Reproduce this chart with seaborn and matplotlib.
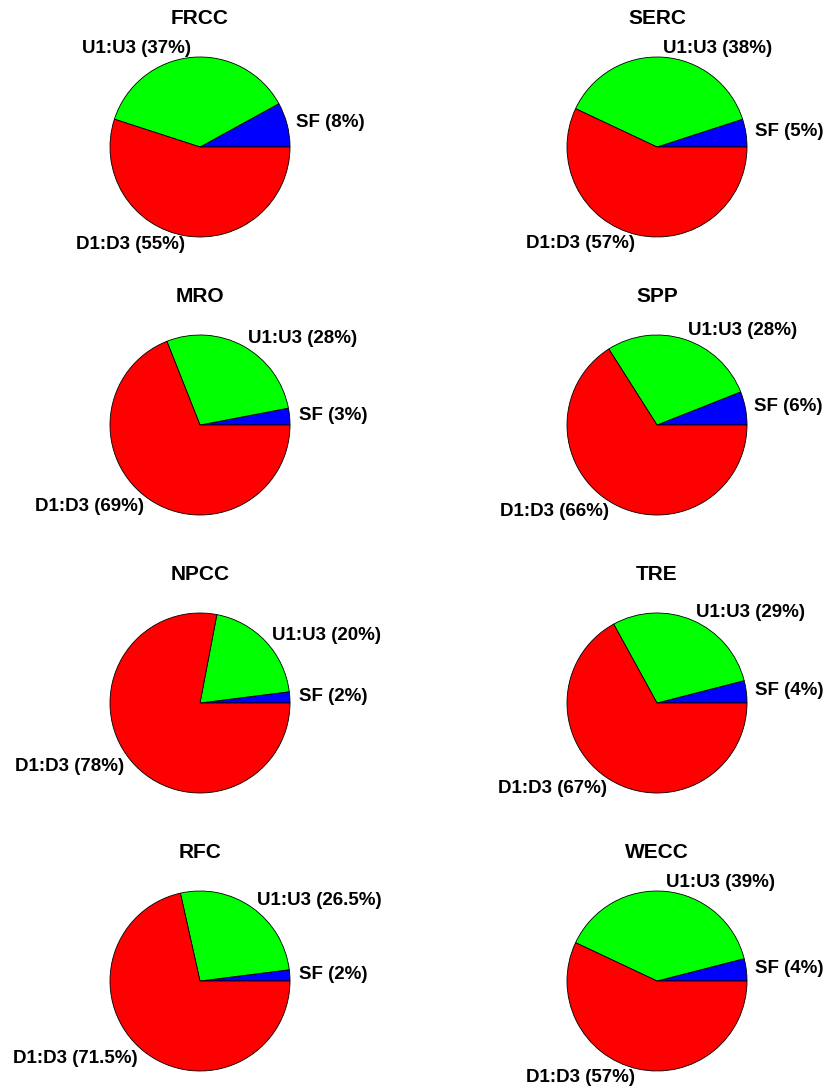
import numpy as np
import matplotlib
matplotlib.use("Agg")
import matplotlib.pyplot as plt
import seaborn as sns

# share of each class per region (percent)
REGIONS = ["FRCC", "SERC", "MRO", "SPP", "NPCC", "TRE", "RFC", "WECC"]
SF = [8, 5, 3, 6, 2, 4, 2, 4]
U1_U3 = [37, 38, 28, 28, 20, 29, 26.5, 39]
D1_D3 = [55, 57, 69, 66, 78, 67, 71.5, 57]
CLASS_NAMES = ["SF", "U1:U3", "D1:D3"]
COLORS = ["#0000ff", "#00ff00", "#ff0000"]

W, H = 828, 1088
COL_X = [200, 657]
ROW_Y = [147, 425, 703, 981]
RADIUS = 90
LIM = 1.3

sns.set_theme(style="white")
plt.rcParams["font.family"] = ["Liberation Sans", "DejaVu Sans"]
plt.rcParams["text.color"] = "black"

fig = plt.figure(figsize=(W / 100, H / 100), dpi=100)

size = 2 * LIM * RADIUS
for i, region in enumerate(REGIONS):
    cx = COL_X[i % 2]
    cy = ROW_Y[i // 2]
    ax = fig.add_axes([(cx - size / 2) / W, 1 - (cy + size / 2) / H, size / W, size / H])
    vals = [SF[i], U1_U3[i], D1_D3[i]]
    labels = [f"{n} ({v:g}%)" for n, v in zip(CLASS_NAMES, vals)]
    ax.pie(vals, labels=labels, colors=COLORS, startangle=0, counterclock=True,
           labeldistance=1.1, radius=1,
           wedgeprops=dict(edgecolor="black", linewidth=0.6),
           textprops=dict(fontsize=13.5, fontweight="bold", color="black"))
    ax.set_xlim(-LIM, LIM)
    ax.set_ylim(-LIM, LIM)
    ax.set_aspect("equal")
    ax.set_title(region, fontsize=15, fontweight="bold", color="black", pad=4)
    ax.axis("off")

fig.savefig("out.png", dpi=100, facecolor="white")
